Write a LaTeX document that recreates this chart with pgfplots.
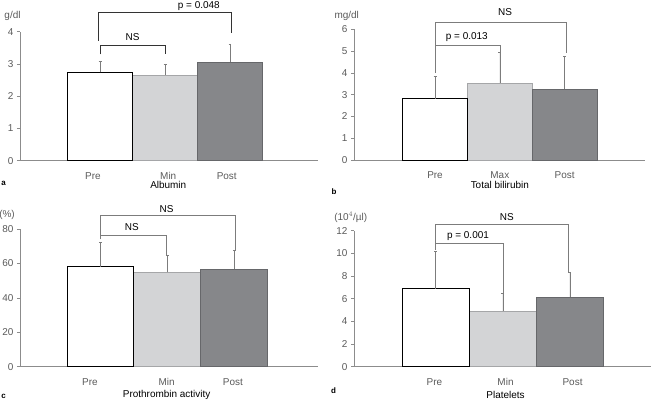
\documentclass[border=0pt]{standalone}
\usepackage{pgfplots}
\pgfplotsset{compat=1.18}
\usepackage{fontspec}
\setmainfont{Liberation Sans}
\definecolor{txt}{HTML}{5A5A5A}
\definecolor{axc}{HTML}{8C8C8C}
\definecolor{lg}{HTML}{D3D4D6}
\definecolor{lge}{HTML}{A5A6A8}
\definecolor{dg}{HTML}{86878A}
\definecolor{dge}{HTML}{66676A}
\definecolor{brk}{HTML}{7C7C7C}
\definecolor{brkd}{HTML}{333333}
\newcommand\fs{\fontsize{10}{12}\selectfont}
\pgfplotsset{
  panel/.style={
    scale only axis, axis lines=left, axis line style={axc,-,line width=0.6pt},
    clip=false, ymin=0,
    font=\fs\color{txt},
    /pgf/number format/assume math mode=true,
    xtick style={draw=none}, ytick style={axc, line width=0.6pt},
    tick align=outside, major tick length=3bp,
    xticklabel style={anchor=base, yshift=-16bp},
  },
  barA/.style={ybar, bar width=1, bar shift=0, fill=white, draw=black, line width=0.7pt,
    error bars/.cd, y dir=plus, y explicit, error bar style={brk, line width=0.6pt},
    error mark options={rotate=90, mark size=1.5pt, brk, line width=0.6pt}},
  barB/.style={ybar, bar width=1, bar shift=0, fill=lg, draw=lge, line width=0.7pt,
    error bars/.cd, y dir=plus, y explicit, error bar style={brk, line width=0.6pt},
    error mark options={rotate=90, mark size=1.5pt, brk, line width=0.6pt}},
  barC/.style={ybar, bar width=1, bar shift=0, fill=dg, draw=dge, line width=0.7pt,
    error bars/.cd, y dir=plus, y explicit, error bar style={brk, line width=0.6pt},
    error mark options={rotate=90, mark size=1.5pt, brk, line width=0.6pt}},
}
\begin{document}
\begin{tikzpicture}
\useasboundingbox (0bp,0bp) rectangle (653bp,401bp);
% ---------- a ----------
\begin{axis}[panel, at={(20bp,240.3bp)}, anchor=south west, width=298bp, height=129bp,
  xmin=-0.231, xmax=4.354, ymax=4, ytick={0,1,2,3,4},
  xtick={0.89,2.05,2.95}, xticklabels={Pre,Min,Post}]
\addplot[barB] coordinates {(2,2.66) +- (0,0.34)};
\addplot[barC] coordinates {(3,3.06) +- (0,0.56)};
\addplot[barA] coordinates {(1,2.74) +- (0,0.34)};
\draw[brkd, line width=0.7pt] (axis cs:1,3.3) -- (axis cs:1,3.59) -- (axis cs:2,3.59) -- (axis cs:2,3.3);
\draw[brkd, line width=0.7pt] (axis cs:0.98,3.72) -- (axis cs:0.98,4.6) -- (axis cs:3.02,4.6) -- (axis cs:3.02,3.97);
\node[font=\fs] at (axis cs:1.5,3.83) {NS};
\node[font=\fs] at (axis cs:2.52,4.78) {p = 0.048};
\node[font=\fs] at (axis cs:2.05,-0.75) {Albumin};
\end{axis}
\node[txt, font=\fs] at (12.5bp,385bp) {g/dl};
\node[font=\bfseries\fontsize{8}{9}\selectfont] at (3.5bp,218bp) {a};
% ---------- b ----------
\begin{axis}[panel, at={(354bp,241bp)}, anchor=south west, width=291bp, height=130.7bp,
  xmin=-0.25, xmax=4.24, ymax=6, ytick={0,1,2,3,4,5,6},
  xtick={1,2,3}, xticklabels={Pre,Max,Post}]
\addplot[barB] coordinates {(2,3.52) +- (0,1.42)};
\addplot[barC] coordinates {(3,3.24) +- (0,1.5)};
\addplot[barA] coordinates {(1,2.81) +- (0,1.01)};
\draw[brk, line width=0.6pt] (axis cs:1,4.0) -- (axis cs:1,5.27) -- (axis cs:2,5.27) -- (axis cs:2,4.94);
\draw[brk, line width=0.6pt] (axis cs:1,5.27) -- (axis cs:1,6.34) -- (axis cs:3.02,6.34) -- (axis cs:3.02,4.9);
\node[font=\fs] at (axis cs:1.49,5.64) {p = 0.013};
\node[font=\fs] at (axis cs:2.08,6.8) {NS};
\node[font=\fs] at (axis cs:2,-1.15) {Total bilirubin};
\end{axis}
\node[txt, font=\fs] at (346.7bp,385.3bp) {mg/dl};
\node[font=\bfseries\fontsize{8}{9}\selectfont] at (334bp,209.3bp) {b};
% ---------- c ----------
\begin{axis}[panel, at={(20bp,34.3bp)}, anchor=south west, width=298bp, height=137.7bp,
  xmin=-0.2, xmax=4.25, ymax=80, ytick={0,20,40,60,80},
  xtick={0.845,1.99,2.98}, xticklabels={Pre,Min,Post}]
\addplot[barB] coordinates {(2,54.8) +- (0,9.7)};
\addplot[barC] coordinates {(3,56.6) +- (0,10.8)};
\addplot[barA] coordinates {(1,58.1) +- (0,13.9)};
\draw[brk, line width=0.6pt] (axis cs:1,74) -- (axis cs:1,76.5) -- (axis cs:1.98,76.5) -- (axis cs:1.98,64.5);
\draw[brk, line width=0.6pt] (axis cs:1,76.5) -- (axis cs:1,88.1) -- (axis cs:3.02,88.1) -- (axis cs:3.02,67.4);
\node[font=\fs] at (axis cs:1.47,81.3) {NS};
\node[font=\fs] at (axis cs:1.99,91.6) {NS};
\node[font=\fs] at (axis cs:1.99,-16.6) {Prothrombin activity};
\end{axis}
\node[txt, font=\fs] at (7bp,186bp) {(\%)};
\node[font=\bfseries\fontsize{8}{9}\selectfont] at (3.5bp,5bp) {c};
% ---------- d ----------
\begin{axis}[panel, at={(354bp,34.3bp)}, anchor=south west, width=297bp, height=136bp,
  xmin=-0.22, xmax=4.21, ymax=12, ytick={0,2,4,6,8,10,12},
  xtick={0.98,2.04,3.04}, xticklabels={Pre,Min,Post}]
\addplot[barB] coordinates {(2,4.89) +- (0,1.55)};
\addplot[barC] coordinates {(3,6.12) +- (0,2.24)};
\addplot[barA] coordinates {(1,6.88) +- (0,3.27)};
\draw[brk, line width=0.6pt] (axis cs:1,10.3) -- (axis cs:1,10.9) -- (axis cs:2,10.9) -- (axis cs:2,6.44);
\draw[brk, line width=0.6pt] (axis cs:1,10.9) -- (axis cs:1,12.57) -- (axis cs:2.97,12.57) -- (axis cs:2.97,8.36);
\node[font=\fs] at (axis cs:1.48,11.5) {p = 0.001};
\node[font=\fs] at (axis cs:2.06,13.2) {NS};
\node[font=\fs] at (axis cs:2.04,-2.5) {Platelets};
\end{axis}
\node[txt, font=\fs] at (350.7bp,183.7bp) {(10$^{4}$/µl)};
\node[font=\bfseries\fontsize{8}{9}\selectfont] at (333.5bp,10bp) {d};
\end{tikzpicture}
\end{document}
